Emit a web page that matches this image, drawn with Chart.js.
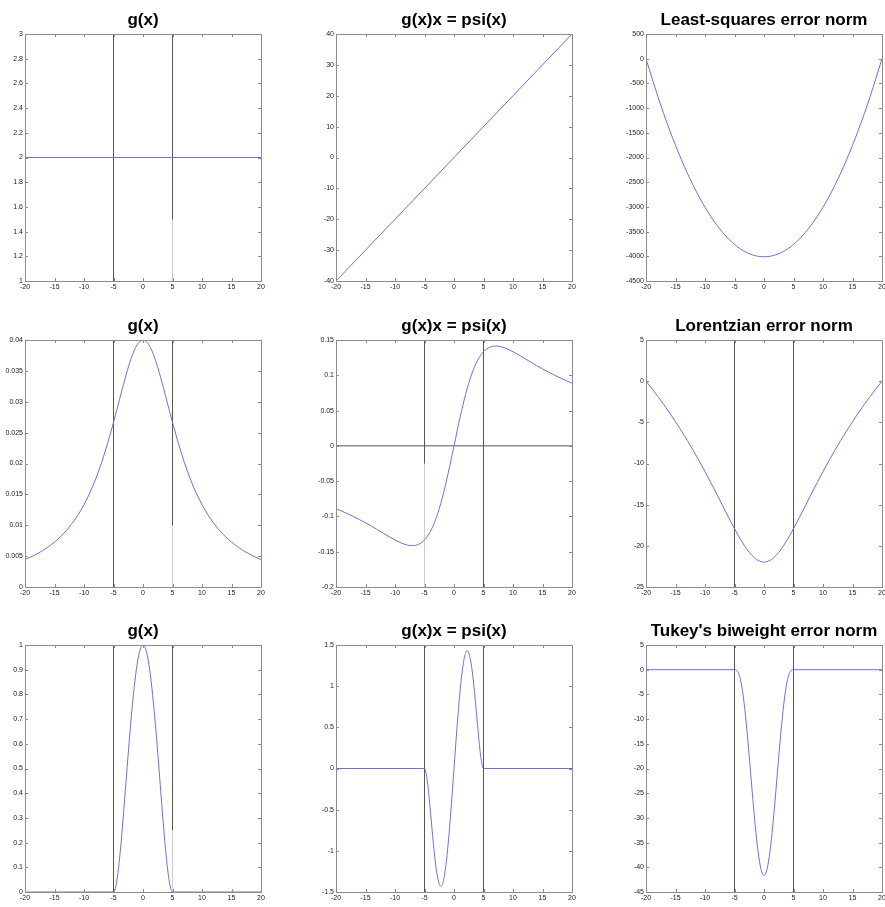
<!DOCTYPE html>
<html>
<head>
<meta charset="utf-8">
<title>Robust estimation: weights, influence and error norms</title>
<script src="https://cdn.jsdelivr.net/npm/chart.js@4.4.1/dist/chart.umd.min.js"></script>
<style>
  html, body { margin: 0; padding: 0; background: #fff; overflow: hidden; }
  body { width: 885px; height: 907px; position: relative; }
  canvas { position: absolute; }
</style>
</head>
<body>
<script>
// SHARED X AXIS

const xTicks = [-20, -15, -10, -5, 0, 5, 10, 15, 20];
const markX = [-5, 5];

// ROW 1 - least squares

const gConstX = [-20, 20];
const gConstY = [2, 2];
const gConstTicks = [1, 1.2, 1.4, 1.6, 1.8, 2, 2.2, 2.4, 2.6, 2.8, 3];

const psiLinX = [-20, 20];
const psiLinY = [-40, 40];
const psiLinTicks = [-40, -30, -20, -10, 0, 10, 20, 30, 40];

const lsX = [-20, -18, -16, -14, -12, -10, -8, -6, -4, -2, 0, 2, 4, 6, 8, 10, 12, 14, 16, 18, 20];
const lsY = [0, -762, -1444, -2045, -2566, -3007, -3368, -3649, -3850, -3970, -4010,
             -3970, -3850, -3649, -3368, -3007, -2566, -2045, -1444, -762, 0];
const lsTicks = [-4500, -4000, -3500, -3000, -2500, -2000, -1500, -1000, -500, 0, 500];

// ROW 2 - Lorentzian

const lorX = [-20, -19, -18, -17, -16, -15, -14, -13, -12, -11, -10, -9, -8, -7, -6, -5, -4, -3, -2, -1, 0,
              1, 2, 3, 4, 5, 6, 7, 8, 9, 10, 11, 12, 13, 14, 15, 16, 17, 18, 19, 20];
const lorG = [0.00444, 0.00487, 0.00535, 0.00590, 0.00654, 0.00727, 0.00813, 0.00913, 0.01031, 0.01170,
              0.01333, 0.01527, 0.01754, 0.02020, 0.02326, 0.02667, 0.03030, 0.03390, 0.03704, 0.03922, 0.04,
              0.03922, 0.03704, 0.03390, 0.03030, 0.02667, 0.02326, 0.02020, 0.01754, 0.01527, 0.01333,
              0.01170, 0.01031, 0.00913, 0.00813, 0.00727, 0.00654, 0.00590, 0.00535, 0.00487, 0.00444];
const lorPsi = [-0.0889, -0.0925, -0.0963, -0.1003, -0.1046, -0.1091, -0.1138, -0.1187, -0.1237, -0.1287,
                -0.1333, -0.1374, -0.1404, -0.1414, -0.1395, -0.1333, -0.1212, -0.1017, -0.0741, -0.0392, 0,
                0.0392, 0.0741, 0.1017, 0.1212, 0.1333, 0.1395, 0.1414, 0.1404, 0.1374, 0.1333,
                0.1287, 0.1237, 0.1187, 0.1138, 0.1091, 0.1046, 0.1003, 0.0963, 0.0925, 0.0889];
const lorRho = [0, -0.90, -1.85, -2.83, -3.85, -4.92, -6.04, -7.20, -8.41, -9.67,
                -10.98, -12.34, -13.73, -15.14, -16.55, -17.91, -19.19, -20.31, -21.20, -21.77, -21.97,
                -21.77, -21.20, -20.31, -19.19, -17.91, -16.55, -15.14, -13.73, -12.34, -10.98,
                -9.67, -8.41, -7.20, -6.04, -4.92, -3.85, -2.83, -1.85, -0.90, 0];
const lorGTicks = [0, 0.005, 0.01, 0.015, 0.02, 0.025, 0.03, 0.035, 0.04];
const lorPsiTicks = [-0.2, -0.15, -0.1, -0.05, 0, 0.05, 0.1, 0.15];
const lorRhoTicks = [-25, -20, -15, -10, -5, 0, 5];

// ROW 3 - Tukey's biweight

const tukX = [-20, -5, -4.5, -4, -3.5, -3, -2.5, -2.25, -2, -1.5, -1, -0.5, 0,
              0.5, 1, 1.5, 2, 2.25, 2.5, 3, 3.5, 4, 4.5, 5, 20];
const tukG = [0, 0, 0.0361, 0.1296, 0.2601, 0.4096, 0.5625, 0.6360, 0.7056, 0.8281, 0.9216, 0.9801, 1,
              0.9801, 0.9216, 0.8281, 0.7056, 0.6360, 0.5625, 0.4096, 0.2601, 0.1296, 0.0361, 0, 0];
const tukPsi = [0, 0, -0.1625, -0.5184, -0.9104, -1.2288, -1.4063, -1.4310, -1.4112, -1.2422, -0.9216, -0.4901, 0,
                0.4901, 0.9216, 1.2422, 1.4112, 1.4310, 1.4063, 1.2288, 0.9104, 0.5184, 0.1625, 0, 0];
const tukRho = [0, 0, -0.29, -1.94, -5.53, -10.92, -17.58, -21.14, -24.70, -31.40, -36.86, -40.43, -41.67,
                -40.43, -36.86, -31.40, -24.70, -21.14, -17.58, -10.92, -5.53, -1.94, -0.29, 0, 0];
const tukGTicks = [0, 0.1, 0.2, 0.3, 0.4, 0.5, 0.6, 0.7, 0.8, 0.9, 1];
const tukPsiTicks = [-1.5, -1, -0.5, 0, 0.5, 1, 1.5];
const tukRhoTicks = [-45, -40, -35, -30, -25, -20, -15, -10, -5, 0, 5];

// PANELS (row by row)

const panels = [
  { title: 'g(x)', xs: gConstX, ys: gConstY, yTicks: gConstTicks, marks: true, faint: [5, 1, 1.5] },
  { title: 'g(x)x = psi(x)', xs: psiLinX, ys: psiLinY, yTicks: psiLinTicks },
  { title: 'Least-squares error norm', xs: lsX, ys: lsY, yTicks: lsTicks },
  { title: 'g(x)', xs: lorX, ys: lorG, yTicks: lorGTicks, marks: true, faint: [5, 0, 0.01] },
  { title: 'g(x)x = psi(x)', xs: lorX, ys: lorPsi, yTicks: lorPsiTicks, marks: true, zero: true, faint: [-5, -0.2, -0.025] },
  { title: 'Lorentzian error norm', xs: lorX, ys: lorRho, yTicks: lorRhoTicks, marks: true },
  { title: 'g(x)', xs: tukX, ys: tukG, yTicks: tukGTicks, marks: true, faint: [5, 0, 0.25] },
  { title: 'g(x)x = psi(x)', xs: tukX, ys: tukPsi, yTicks: tukPsiTicks, marks: true },
  { title: "Tukey's biweight error norm", xs: tukX, ys: tukRho, yTicks: tukRhoTicks, marks: true }
];

// LAYOUT

const colLeft = [25, 336, 646];
const rowTop = [34, 340, 645];
const plotW = 236, plotH = 247;
const yAxisW = 24, xAxisH = 14, titleH = 26;

const curveColor = 'rgb(112,112,214)';
const markColor = 'rgb(85,85,85)';
const faintColor = 'rgb(205,205,205)';
const boxColor = 'rgb(140,140,140)';
const tickFont = { family: "'Liberation Sans', Arial, sans-serif", size: 7 };
const titleFont = { family: "'Liberation Sans', Arial, sans-serif", size: 17, weight: 'bold', lineHeight: 1 };

// matlab style box with ticks pointing inwards on all four sides
const matlabBox = {
  id: 'matlabBox',
  afterDatasetsDraw(chart) {
    const { ctx, chartArea: a, scales } = chart;
    ctx.save();
    ctx.strokeStyle = boxColor;
    ctx.lineWidth = 1;
    ctx.strokeRect(a.left + 0.5, a.top + 0.5, a.right - a.left, a.bottom - a.top);
    ctx.beginPath();
    scales.x.ticks.forEach(t => {
      const px = Math.round(scales.x.getPixelForValue(t.value)) + 0.5;
      ctx.moveTo(px, a.bottom); ctx.lineTo(px, a.bottom - 3);
      ctx.moveTo(px, a.top); ctx.lineTo(px, a.top + 3);
    });
    scales.y.ticks.forEach(t => {
      const py = Math.round(scales.y.getPixelForValue(t.value)) + 0.5;
      ctx.moveTo(a.left, py); ctx.lineTo(a.left + 3, py);
      ctx.moveTo(a.right, py); ctx.lineTo(a.right - 3, py);
    });
    ctx.stroke();
    ctx.restore();
  }
};

function pts(xs, ys) {
  return xs.map((x, i) => ({ x: x, y: ys[i] }));
}

function straight(data, color, order) {
  return { data: data, borderColor: color, borderWidth: 1, pointRadius: 0, tension: 0, order: order };
}

panels.forEach((p, i) => {
  const r = Math.floor(i / 3), c = i % 3;
  const yMin = p.yTicks[0], yMax = p.yTicks[p.yTicks.length - 1];

  // y axis on the left and an empty spacer axis on the right keep the title centred over the plot
  const canvas = document.createElement('canvas');
  canvas.width = yAxisW + plotW + yAxisW;
  canvas.height = titleH + plotH + xAxisH;
  canvas.style.left = (colLeft[c] - yAxisW) + 'px';
  canvas.style.top = (rowTop[r] - titleH) + 'px';
  document.body.appendChild(canvas);

  const datasets = [{
    data: pts(p.xs, p.ys),
    borderColor: curveColor,
    borderWidth: 1,
    pointRadius: 0,
    cubicInterpolationMode: 'monotone',
    order: 0
  }];
  if (p.marks) {
    markX.forEach(mx => datasets.push(straight([{ x: mx, y: yMin }, { x: mx, y: yMax }], markColor, 2)));
  }
  if (p.zero) {
    datasets.push(straight([{ x: -20, y: 0 }, { x: 20, y: 0 }], markColor, 2));
  }
  if (p.faint) {
    datasets.push(straight([{ x: p.faint[0], y: p.faint[1] }, { x: p.faint[0], y: p.faint[2] }], faintColor, 1));
  }

  new Chart(canvas, {
    type: 'line',
    data: { datasets: datasets },
    options: {
      responsive: false,
      animation: false,
      devicePixelRatio: 1,
      layout: { padding: 0 },
      plugins: {
        legend: { display: false },
        tooltip: { enabled: false },
        title: {
          display: true,
          text: p.title,
          color: '#000',
          font: titleFont,
          padding: { top: 4, bottom: 5 }
        }
      },
      scales: {
        x: {
          type: 'linear',
          min: -20,
          max: 20,
          afterBuildTicks: s => { s.ticks = xTicks.map(v => ({ value: v })); },
          afterFit: s => { s.height = xAxisH; },
          grid: { display: false, drawTicks: false },
          border: { display: false },
          ticks: { font: tickFont, color: '#222', padding: 2, maxRotation: 0, autoSkip: false, callback: v => String(v) }
        },
        y: {
          type: 'linear',
          min: yMin,
          max: yMax,
          afterBuildTicks: s => { s.ticks = p.yTicks.map(v => ({ value: v })); },
          afterFit: s => { s.width = yAxisW; },
          grid: { display: false, drawTicks: false },
          border: { display: false },
          ticks: { font: tickFont, color: '#222', padding: 2, autoSkip: false, callback: v => String(v) }
        },
        spacer: {
          type: 'linear',
          position: 'right',
          min: yMin,
          max: yMax,
          afterFit: s => { s.width = yAxisW; },
          grid: { display: false, drawTicks: false },
          border: { display: false },
          ticks: { display: false }
        }
      }
    },
    plugins: [matlabBox]
  });
});
</script>
</body>
</html>
